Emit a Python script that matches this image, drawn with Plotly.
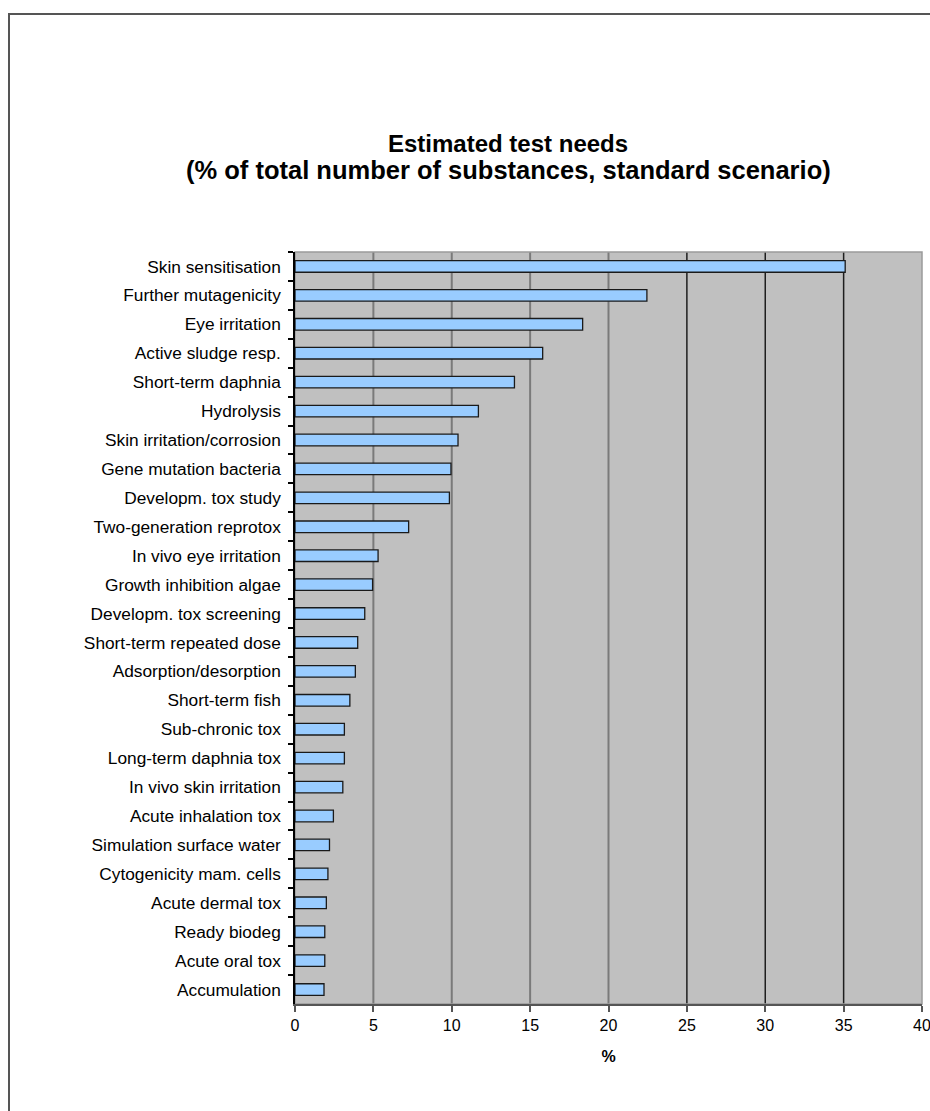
import plotly.graph_objects as go

categories = [
    "Skin sensitisation", "Further mutagenicity", "Eye irritation", "Active sludge resp.",
    "Short-term daphnia", "Hydrolysis", "Skin irritation/corrosion", "Gene mutation bacteria",
    "Developm. tox study", "Two-generation reprotox", "In vivo eye irritation",
    "Growth inhibition algae", "Developm. tox screening", "Short-term repeated dose",
    "Adsorption/desorption", "Short-term fish", "Sub-chronic tox", "Long-term daphnia tox",
    "In vivo skin irritation", "Acute inhalation tox", "Simulation surface water",
    "Cytogenicity mam. cells", "Acute dermal tox", "Ready biodeg", "Acute oral tox",
    "Accumulation",
]
values = [
    35.1, 22.45, 18.35, 15.8, 14.0, 11.7, 10.4, 9.95, 9.85, 7.25, 5.3, 4.95, 4.45, 4.0,
    3.85, 3.5, 3.15, 3.15, 3.05, 2.45, 2.2, 2.1, 2.0, 1.9, 1.9, 1.85,
]
x_ticks = [0, 5, 10, 15, 20, 25, 30, 35, 40]
title_lines = ["Estimated test needs", "(% of total number of substances, standard scenario)"]

W, H = 930, 1111
L, R, T, B = 295, 8, 252, 107
PW, PH = W - L - R, H - T - B

fig = go.Figure()
fig.add_trace(go.Bar(
    x=values, y=categories, orientation="h", width=0.4,
    marker=dict(color="#99ccff", line=dict(color="#1a1a1a", width=1.3)),
))

# vertical gridlines
shapes = []
for v in x_ticks[1:-1]:
    dark = v >= 25
    shapes.append(dict(type="line", xref="x", yref="paper", x0=v, x1=v, y0=0, y1=1,
                       line=dict(color="#1e1e1e" if dark else "#7a7a7a", width=1.5 if dark else 2),
                       layer="below"))
# plot frame (top/right)
shapes.append(dict(type="rect", xref="paper", yref="paper", x0=0, x1=1, y0=0, y1=1,
                   line=dict(color="#9a9a9a", width=1.5), layer="below"))
# outer figure border
bx0 = (9 - L) / PW
by1 = (H - B - 14) / PH
shapes.append(dict(type="rect", xref="paper", yref="paper", x0=bx0, x1=1.2, y0=-0.3, y1=by1,
                   line=dict(color="#555555", width=2), fillcolor="rgba(0,0,0,0)"))

annotations = [
    dict(text="<b>%s</b>" % title_lines[0], xref="paper", yref="paper",
         x=(508 - L) / PW, y=(H - B - 143) / PH, xanchor="center", yanchor="middle",
         showarrow=False, font=dict(size=24, color="black")),
    dict(text="<b>%s</b>" % title_lines[1], xref="paper", yref="paper",
         x=(508 - L) / PW, y=(H - B - 170) / PH, xanchor="center", yanchor="middle",
         showarrow=False, font=dict(size=25.5, color="black")),
]

fig.update_layout(
    width=W, height=H,
    margin=dict(l=L, r=R, t=T, b=B, autoexpand=False),
    paper_bgcolor="white", plot_bgcolor="#c0c0c0",
    font=dict(family="Liberation Sans, Arial, sans-serif", color="black"),
    showlegend=False,
    bargap=0.6,
    shapes=shapes,
    annotations=annotations,
    xaxis=dict(
        range=[0, 40], tickvals=x_ticks, showgrid=False, zeroline=False,
        showline=True, linecolor="#555555", linewidth=1.5,
        ticks="outside", ticklen=6, tickcolor="#555555", tickwidth=1.5,
        tickfont=dict(size=16), ticklabeloverflow="allow", automargin=False,
        title=dict(text="<b>%</b>", font=dict(size=16), standoff=18),
    ),
    yaxis=dict(
        autorange="reversed", showgrid=False, zeroline=False,
        showline=True, linecolor="black", linewidth=1.5,
        ticks="outside", ticklen=5, tickcolor="black", tickwidth=1.5,
        tickson="boundaries", automargin=False,
        tickfont=dict(size=17.3),
        ticklabelstandoff=9,
    ),
)

fig.write_html("out.html")
